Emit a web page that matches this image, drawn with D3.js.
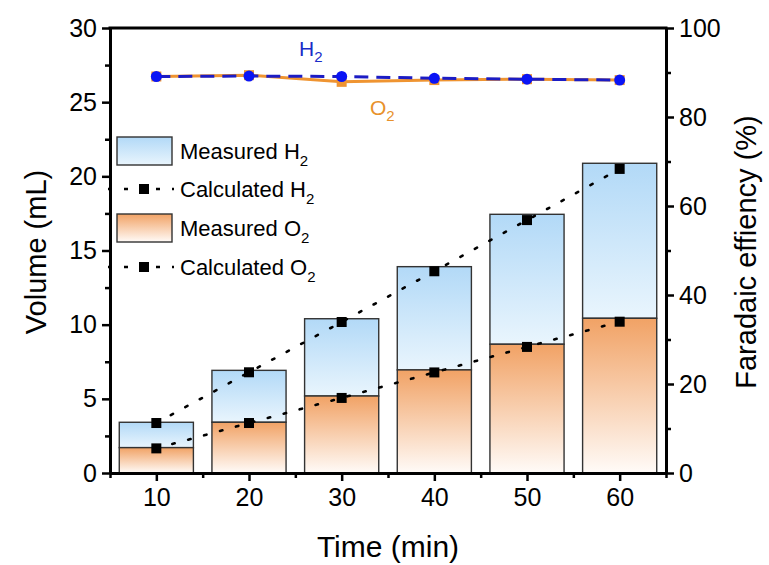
<!DOCTYPE html>
<html lang="en">
<head>
<meta charset="utf-8"/>
<script src="https://d3js.org/d3.v7.min.js"></script>
<title>Volume and Faradaic efficiency</title>
<style>
    body { margin: 0; background: #fff; }
    svg { font-family: "Liberation Sans", Arial, sans-serif; }
</style>
</head>
<body>
<svg id="chart" width="769" height="565"></svg>
<script>
    // data
    const times = [10, 20, 30, 40, 50, 60];
    const measuredH2 = [3.42, 6.92, 10.4, 13.91, 17.44, 20.88];
    const measuredO2 = [1.71, 3.42, 5.19, 6.95, 8.68, 10.43];
    const calculatedH2 = [3.37, 6.79, 10.18, 13.6, 17.05, 20.5];
    const calculatedO2 = [1.66, 3.37, 5.06, 6.78, 8.5, 10.2];
    const feH2 = [89.1, 89.2, 89.1, 88.7, 88.5, 88.3];
    const feO2 = [89.1, 89.4, 87.9, 88.3, 88.5, 88.3];
    const xTicks = [10, 20, 30, 40, 50, 60];
    const yTicks = [0, 5, 10, 15, 20, 25, 30];
    const y2Ticks = [0, 20, 40, 60, 80, 100];

    const svg = d3.select("#chart");
    const plotLeft = 110, plotRight = 666, plotTop = 28, plotBottom = 473;

    const x = d3.scaleLinear().domain([5, 65]).range([plotLeft, plotRight]);
    const y = d3.scaleLinear().domain([0, 30]).range([plotBottom, plotTop]);
    const y2 = d3.scaleLinear().domain([0, 100]).range([plotBottom, plotTop]);
    const barW = x(14) - x(6);

    const defs = svg.append("defs");
    function grad(id, c1, c2) {
        const g = defs.append("linearGradient").attr("id", id)
            .attr("x1", 0).attr("y1", 0).attr("x2", 0).attr("y2", 1);
        g.append("stop").attr("offset", "0%").attr("stop-color", c1);
        g.append("stop").attr("offset", "100%").attr("stop-color", c2);
    }
    grad("gH2", "#b2d9f7", "#e9f5fd");
    grad("gO2", "#f1a265", "#fffbf8");

    // bars
    const bars = svg.append("g");
    bars.selectAll(".h2").data(times).enter().append("rect")
        .attr("x", (d) => x(d) - barW / 2)
        .attr("y", (d, i) => y(measuredH2[i]))
        .attr("width", barW)
        .attr("height", (d, i) => y(measuredO2[i]) - y(measuredH2[i]))
        .attr("fill", "url(#gH2)")
        .attr("stroke", "#333").attr("stroke-width", 1.4);
    bars.selectAll(".o2").data(times).enter().append("rect")
        .attr("x", (d) => x(d) - barW / 2)
        .attr("y", (d, i) => y(measuredO2[i]))
        .attr("width", barW)
        .attr("height", (d, i) => y(0) - y(measuredO2[i]))
        .attr("fill", "url(#gO2)")
        .attr("stroke", "#333").attr("stroke-width", 1.4);

    // calculated dotted lines
    function calcLine(vals) {
        const pts = times.map((t, i) => [t, vals[i]]);
        svg.append("path").datum(pts)
            .attr("d", d3.line().x((d) => x(d[0])).y((d) => y(d[1])))
            .attr("fill", "none").attr("stroke", "#000")
            .attr("stroke-width", 2.6).attr("stroke-dasharray", "2.5,14")
            .attr("stroke-linecap", "round");
        svg.append("g").selectAll("rect").data(pts).enter().append("rect")
            .attr("x", (d) => x(d[0]) - 5).attr("y", (d) => y(d[1]) - 5)
            .attr("width", 10).attr("height", 10).attr("fill", "#000");
    }
    calcLine(calculatedH2);
    calcLine(calculatedO2);

    // faradaic efficiency
    const feLine = d3.line().x((d, i) => x(times[i])).y((d) => y2(d));
    svg.append("path").datum(feO2).attr("d", feLine)
        .attr("fill", "none").attr("stroke", "#ef9431").attr("stroke-width", 3);
    svg.append("g").selectAll("rect").data(feO2).enter().append("rect")
        .attr("x", (d, i) => x(times[i]) - 5).attr("y", (d) => y2(d) - 5)
        .attr("width", 10).attr("height", 10).attr("fill", "#ef9431");
    svg.append("path").datum(feH2).attr("d", feLine)
        .attr("fill", "none").attr("stroke", "#1c1cc4").attr("stroke-width", 3)
        .attr("stroke-dasharray", "14,8");
    svg.append("g").selectAll("circle").data(feH2).enter().append("circle")
        .attr("cx", (d, i) => x(times[i])).attr("cy", (d) => y2(d))
        .attr("r", 5.5).attr("fill", "#0a14f5");

    svg.append("text").attr("x", 299).attr("y", 56).attr("fill", "#1a2cc8")
        .attr("font-size", 21).html('H<tspan font-size="15" dy="6">2</tspan>');
    svg.append("text").attr("x", 370).attr("y", 115).attr("fill", "#e8912b")
        .attr("font-size", 21).html('O<tspan font-size="15" dy="6">2</tspan>');

    // axes
    const ax = svg.append("g");
    const xMinor = d3.range(5, 66, 10);
    const yMinor = d3.range(2.5, 30, 5);
    const y2Minor = d3.range(10, 100, 20);

    ax.append("g").attr("transform", `translate(0,${plotBottom})`)
        .call(d3.axisBottom(x).tickValues(xTicks).tickSize(8).tickPadding(7).tickSizeOuter(0));
    ax.append("g").attr("transform", `translate(0,${plotBottom})`)
        .call(d3.axisBottom(x).tickValues(xMinor).tickSize(5).tickFormat("").tickSizeOuter(0));
    ax.append("g").attr("transform", `translate(${plotLeft},0)`)
        .call(d3.axisLeft(y).tickValues(yTicks).tickSize(8).tickPadding(5).tickSizeOuter(0));
    ax.append("g").attr("transform", `translate(${plotLeft},0)`)
        .call(d3.axisLeft(y).tickValues(yMinor).tickSize(5).tickFormat("").tickSizeOuter(0));
    ax.append("g").attr("transform", `translate(${plotRight},0)`)
        .call(d3.axisRight(y2).tickValues(y2Ticks).tickSize(8).tickPadding(5).tickSizeOuter(0));
    ax.append("g").attr("transform", `translate(${plotRight},0)`)
        .call(d3.axisRight(y2).tickValues(y2Minor).tickSize(5).tickFormat("").tickSizeOuter(0));

    ax.selectAll("text").attr("fill", "#000").attr("font-family", "Liberation Sans, Arial, sans-serif")
        .attr("font-size", 25);
    ax.selectAll("line").attr("stroke", "#000").attr("stroke-width", 2.5);
    ax.selectAll(".domain").attr("stroke", "#000").attr("stroke-width", 3);
    svg.append("line").attr("x1", plotLeft - 1.5).attr("x2", plotRight + 1.5)
        .attr("y1", plotTop).attr("y2", plotTop).attr("stroke", "#000").attr("stroke-width", 3);

    // axis titles
    svg.append("text").attr("x", 388).attr("y", 557).attr("text-anchor", "middle")
        .attr("font-size", 30).text("Time (min)");
    svg.append("text").attr("transform", "translate(46,252) rotate(-90)")
        .attr("text-anchor", "middle").attr("font-size", 29).text("Volume (mL)");
    svg.append("text").attr("transform", "translate(756,252) rotate(-90)")
        .attr("text-anchor", "middle").attr("font-size", 29).text("Faradaic effiency (%)");

    // legend
    const lg = svg.append("g").attr("font-size", 22);
    const rows = [
        {type: "bar", fill: "url(#gH2)", label: "Measured H", y: 151},
        {type: "line", label: "Calculated H", y: 189},
        {type: "bar", fill: "url(#gO2)", label: "Measured O", y: 228},
        {type: "line", label: "Calculated O", y: 267}
    ];
    rows.forEach((r) => {
        if (r.type === "bar") {
            lg.append("rect").attr("x", 117).attr("y", r.y - 14).attr("width", 55).attr("height", 28)
                .attr("fill", r.fill).attr("stroke", "#333").attr("stroke-width", 1.4);
        } else {
            lg.append("line").attr("x1", 108).attr("x2", 174).attr("y1", r.y).attr("y2", r.y)
                .attr("stroke", "#000").attr("stroke-width", 2.6).attr("stroke-dasharray", "4,12");
            lg.append("rect").attr("x", 139).attr("y", r.y - 5).attr("width", 10).attr("height", 10)
                .attr("fill", "#000");
        }
        lg.append("text").attr("x", 180).attr("y", r.y + 8)
            .html(r.label + '<tspan font-size="15" dy="7">2</tspan>');
    });
</script>
</body>
</html>
